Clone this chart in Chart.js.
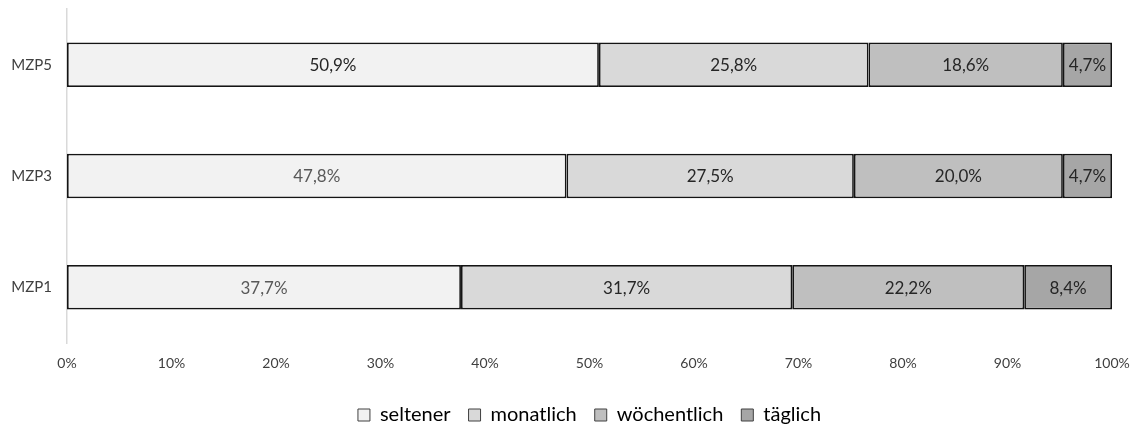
<!DOCTYPE html>
<html>
<head>
<meta charset="utf-8">
<script src="https://cdn.jsdelivr.net/npm/chart.js@4"></script>
<style>
  html, body { margin: 0; padding: 0; background: #fff; }
  #wrap { width: 1133px; height: 428px; }
</style>
</head>
<body>
<div id="wrap"><canvas id="grafico" width="1133" height="428"></canvas></div>
<script>
const kategorien = ["MZP5", "MZP3", "MZP1"];
const seltener = [50.9, 47.8, 37.7];
const monatlich = [25.8, 27.5, 31.7];
const woechentlich = [18.6, 20.0, 22.2];
const taeglich = [4.7, 4.7, 8.4];
const xTicks = [0, 10, 20, 30, 40, 50, 60, 70, 80, 90, 100];

const FONT = "Lato, 'Open Sans', sans-serif";

// Beschriftungen in der Balkenmitte
const labelPlugin = {
  id: "barLabels",
  afterDatasetsDraw(chart) {
    const ctx = chart.ctx;
    ctx.save();
    ctx.font = "17px " + FONT;
    ctx.textAlign = "center";
    ctx.textBaseline = "middle";
    chart.data.datasets.forEach((ds, i) => {
      const meta = chart.getDatasetMeta(i);
      meta.data.forEach((el, j) => {
        const v = ds.data[j];
        ctx.fillStyle = ds.labelColors ? ds.labelColors[j] : "#262626";
        ctx.fillText(v.toFixed(1).replace(".", ",") + "%", (el.x + el.base) / 2, el.y + 1);
      });
    });
    ctx.restore();
  }
};

const ctx = document.getElementById("grafico").getContext("2d");
const chart = new Chart(ctx, {
  type: "bar",
  data: {
    labels: kategorien,
    datasets: [
      { label: "seltener", data: seltener, backgroundColor: "#f2f2f2", labelColors: ["#262626", "#595959", "#595959"] },
      { label: "monatlich", data: monatlich, backgroundColor: "#d9d9d9" },
      { label: "wöchentlich", data: woechentlich, backgroundColor: "#bfbfbf" },
      { label: "täglich", data: taeglich, backgroundColor: "#a6a6a6" }
    ].map(d => Object.assign(d, {
      borderColor: "#141414",
      borderWidth: 1.75,
      borderSkipped: false,
      categoryPercentage: 1,
      barPercentage: 0.4
    }))
  },
  options: {
    indexAxis: "y",
    responsive: false,
    animation: false,
    layout: { padding: { top: 9, right: 21, left: 0, bottom: -7 } },
    scales: {
      x: {
        stacked: true,
        min: 0,
        max: 100,
        afterBuildTicks: s => { s.ticks = xTicks.map(v => ({ value: v })); },
        ticks: {
          callback: v => v + "%",
          color: "#404040",
          font: { family: FONT, size: 14 },
          padding: 12,
          maxRotation: 0
        },
        grid: { display: false, drawTicks: false },
        border: { display: false },
        afterFit: s => { s.height = 44; s.paddingLeft = 0; s.paddingRight = 0; }
      },
      y: {
        stacked: true,
        ticks: {
          color: "#404040",
          font: { family: FONT, size: 15 },
          padding: 15
        },
        grid: { display: false, drawTicks: false },
        border: { display: true, color: "#d9d9d9", width: 1.5 },
        afterFit: s => { s.width = 67; s.paddingTop = 0; s.paddingBottom = 0; }
      }
    },
    plugins: {
      legend: {
        position: "bottom",
        fullSize: false,
        labels: {
          boxWidth: 12,
          boxHeight: 12,
          padding: 18,
          color: "#404040",
          font: { family: FONT, size: 20 },
          generateLabels: c => c.data.datasets.map((d, i) => ({
            text: d.label,
            fillStyle: d.backgroundColor,
            strokeStyle: "#404040",
            lineWidth: 1,
            datasetIndex: i
          }))
        }
      },
      tooltip: { enabled: false }
    }
  },
  plugins: [labelPlugin]
});
</script>
</body>
</html>
